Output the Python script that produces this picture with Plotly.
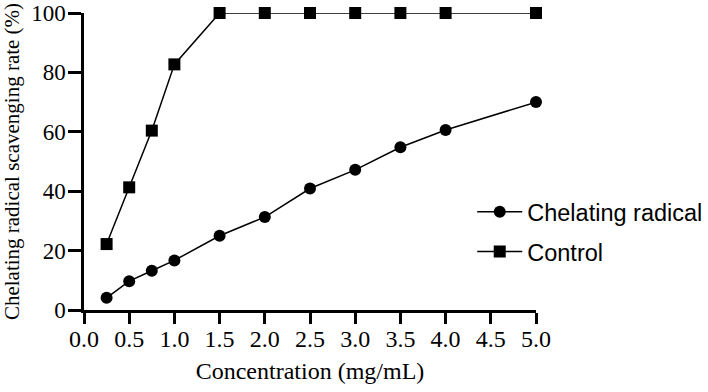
import plotly.graph_objects as go

conc_chel = [0.25, 0.5, 0.75, 1.0, 1.5, 2.0, 2.5, 3.0, 3.5, 4.0, 5.0]
rate_chel = [4.1, 9.7, 13.2, 16.7, 25.0, 31.3, 40.9, 47.2, 54.8, 60.6, 70.0]
conc_ctrl = [0.25, 0.5, 0.75, 1.0, 1.5, 2.0, 2.5, 3.0, 3.5, 4.0, 5.0]
rate_ctrl = [22.2, 41.3, 60.4, 82.7, 100, 100, 100, 100, 100, 100, 100]
x_ticks = [0.0, 0.5, 1.0, 1.5, 2.0, 2.5, 3.0, 3.5, 4.0, 4.5, 5.0]
y_ticks = [0, 20, 40, 60, 80, 100]

fig = go.Figure()
fig.add_trace(go.Scatter(x=conc_chel, y=rate_chel, mode="lines+markers", name="Chelating radical",
                         legendgroup="a",
                         line=dict(color="black", width=1.5),
                         marker=dict(symbol="circle", size=12, color="black"), cliponaxis=False))
fig.add_trace(go.Scatter(x=conc_ctrl, y=rate_ctrl, mode="lines+markers", name="Control",
                         legendgroup="b",
                         line=dict(color="black", width=1.5),
                         marker=dict(symbol="square", size=12, color="black"), cliponaxis=False))

serif = '"Liberation Serif", "Times New Roman", serif'
sans = '"Liberation Sans", Arial, sans-serif'
fig.update_layout(
    width=708, height=392,
    margin=dict(l=84, r=172, t=13, b=82, autoexpand=False),
    paper_bgcolor="white", plot_bgcolor="white",
    font=dict(family=serif, color="black"),
    legend=dict(xref="container", yref="container", x=0.667, y=0.408, xanchor="left", yanchor="middle",
                font=dict(family=sans, size=23.5, color="black"),
                itemwidth=45, tracegroupgap=6, bgcolor="rgba(0,0,0,0)"),
    xaxis=dict(range=[0, 5], tickvals=x_ticks, ticktext=[f"{v:.1f}" for v in x_ticks],
               showline=True, linecolor="black", linewidth=2.5, ticks="outside", ticklen=11,
               tickwidth=2.5, tickcolor="black", showgrid=False, zeroline=False,
               tickfont=dict(size=24, family=serif), automargin=False, ticklabeloverflow="allow",
               ticklabelstandoff=-6,
               title=dict(text="Concentration (mg/mL)", font=dict(size=24, family=serif), standoff=12)),
    yaxis=dict(range=[0, 100], tickvals=y_ticks, ticktext=[str(v) for v in y_ticks],
               showline=True, linecolor="black", linewidth=2.5, ticks="outside", ticklen=13,
               tickwidth=2.5, tickcolor="black", showgrid=False, zeroline=False,
               tickfont=dict(size=23, family=serif), automargin=False, ticklabeloverflow="allow",
               ticklabelstandoff=-2,
               title=dict(text="Chelating radical scavenging rate (%)", font=dict(size=21, family=serif), standoff=8)),
)
fig.write_html("out.html", post_script="document.body.style.margin='0px';",
               config={"displayModeBar": False})
